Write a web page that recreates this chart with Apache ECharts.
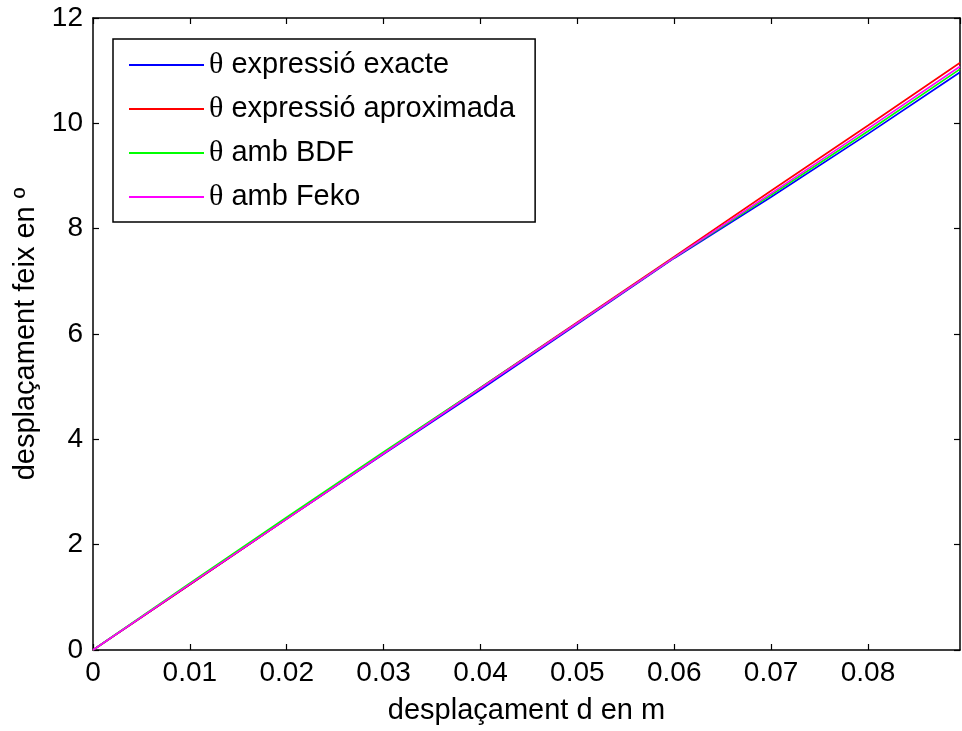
<!DOCTYPE html>
<html>
<head>
<meta charset="utf-8">
<script src="https://cdn.jsdelivr.net/npm/echarts@6/dist/echarts.min.js"></script>
<style>html,body{margin:0;padding:0;background:#fff}#c{width:962px;height:731px}</style>
</head>
<body>
<div id="c"></div>
<script>
const dValues = [0, 0.01, 0.02, 0.03, 0.04, 0.05, 0.06, 0.07, 0.08, 0.0895];
const exacte = [0, 1.245, 2.49, 3.72, 4.94, 6.19, 7.44, 8.60, 9.80, 10.97];
const aproximada = [0, 1.245, 2.49, 3.735, 4.98, 6.225, 7.47, 8.72, 9.96, 11.15];
const bdf = [0, 1.27, 2.52, 3.76, 4.98, 6.21, 7.45, 8.64, 9.85, 11.03];
const feko = [0, 1.25, 2.49, 3.73, 4.97, 6.21, 7.45, 8.67, 9.90, 11.08];
const seriesNames = ['θ expressió exacte', 'θ expressió aproximada', 'θ amb BDF', 'θ amb Feko'];
const seriesColors = ['#0000ff', '#ff0000', '#00ff00', '#ff00ff'];
const xTicks = [0, 0.01, 0.02, 0.03, 0.04, 0.05, 0.06, 0.07, 0.08];
const yTicks = [0, 2, 4, 6, 8, 10, 12];

const font = 'Liberation Sans, Arial, sans-serif';
const allData = [exacte, aproximada, bdf, feko];
const series = allData.map((vals, i) => ({
  name: seriesNames[i],
  type: 'line',
  data: dValues.map((d, j) => [d, vals[j]]),
  showSymbol: false,
  symbol: 'none',
  lineStyle: { color: seriesColors[i], width: 1.7 },
  itemStyle: { color: seriesColors[i] },
  xAxisIndex: 0, yAxisIndex: 0,
  animation: false
}));

const axisCommon = {
  axisLine: { show: true, onZero: false, lineStyle: { color: '#000', width: 1.5 } },
  axisTick: { show: true, inside: true, length: 6, lineStyle: { color: '#000', width: 1.2 } },
  splitLine: { show: false }
};

const chart = echarts.init(document.getElementById('c'), null, { renderer: 'canvas' });
chart.setOption({
  backgroundColor: '#fff',
  animation: false,
  grid: { left: 93, right: 2, top: 18, bottom: 81, containLabel: false },
  legend: {
    orient: 'vertical',
    left: 113, top: 39,
    backgroundColor: '#fff',
    borderColor: '#000', borderWidth: 1.5,
    padding: [11, 20, 10, 15],
    itemWidth: 75, itemHeight: 30, itemGap: 14,
    itemStyle: { opacity: 0 },
    data: seriesNames,
    formatter: function (n) { return '{t|θ} ' + n.slice(2); },
    textStyle: {
      fontFamily: font, fontSize: 29, color: '#000', lineHeight: 30,
      rich: { t: { fontFamily: 'Liberation Serif, Times New Roman, serif', fontSize: 30, color: '#000', lineHeight: 30 } }
    }
  },
  xAxis: [
    Object.assign({}, axisCommon, {
      type: 'value', min: 0, max: 0.0895, interval: 0.01,
      name: 'desplaçament d en m', nameLocation: 'middle', nameGap: 46,
      nameTextStyle: { fontFamily: font, fontSize: 29, color: '#000' },
      axisLabel: {
        fontFamily: font, fontSize: 28, color: '#000', margin: 9, showMaxLabel: false,
        formatter: v => { const t = xTicks.find(x => Math.abs(x - v) < 1e-9); return t === undefined ? '' : String(t); }
      }
    }),
    Object.assign({}, axisCommon, {
      type: 'value', min: 0, max: 0.0895, interval: 0.01, position: 'top',
      axisLabel: { show: false }
    })
  ],
  yAxis: [
    Object.assign({}, axisCommon, {
      type: 'value', min: 0, max: 12, interval: 2,
      name: 'desplaçament feix en º', nameLocation: 'middle', nameGap: 47,
      nameTextStyle: { fontFamily: font, fontSize: 29, color: '#000' },
      axisLabel: {
        fontFamily: font, fontSize: 28, color: '#000', margin: 10,
        formatter: v => { const t = yTicks.find(y => Math.abs(y - v) < 1e-9); return t === undefined ? '' : String(t); }
      }
    }),
    Object.assign({}, axisCommon, {
      type: 'value', min: 0, max: 12, interval: 2, position: 'right',
      axisLabel: { show: false }
    })
  ],
  series: series
});
</script>
</body>
</html>
